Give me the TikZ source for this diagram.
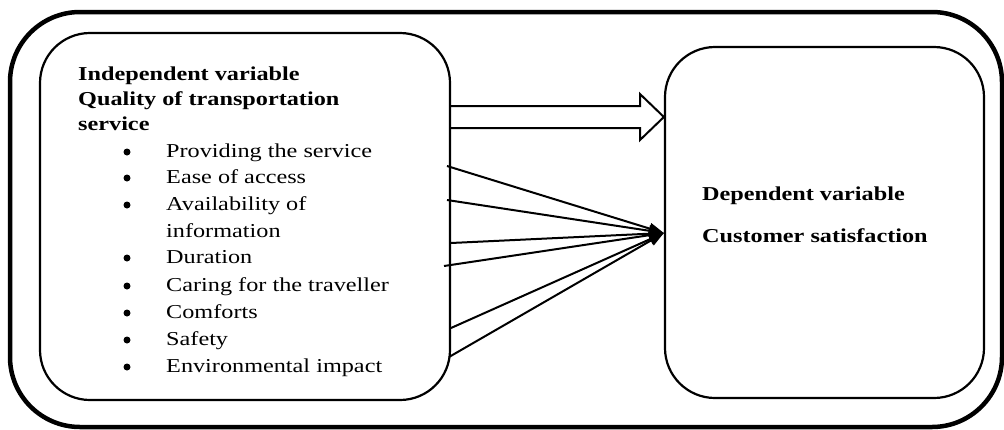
\documentclass[tikz,border=0pt]{standalone}
\usepackage{fontspec}
\setmainfont{Liberation Serif}[FakeStretch=1.23]
\usetikzlibrary{arrows.meta}
\tikzset{
  box/.style={draw, line width=2.2pt, rounded corners=50pt},
  txt/.style={anchor=base west, inner sep=0pt, font=\fontsize{19.7}{26.8}\selectfont},
  btxt/.style={txt, font=\fontsize{19.7}{26.8}\selectfont\bfseries},
  dot/.style={circle, fill, inner sep=0pt, minimum size=7pt},
  link/.style={line width=2pt, -{Triangle[length=15pt,width=11pt]}}
}

\begin{document}
\begin{tikzpicture}[x=1pt,y=-1pt]
\useasboundingbox (0,0) rectangle (1004,429);

\draw[line width=4.5pt, rounded corners=70pt] (10,12) rectangle (1002,427);

\node[box, minimum width=410pt, minimum height=367pt] (indep) at (245,216.5) {};
\node[box, minimum width=319pt, minimum height=351pt] (dep) at (824.5,222.5) {};

% left box texts
\node[btxt] (ind) at (78,80) {Independent variable};
\node[btxt] (qual) at (78,105) {Quality of transportation};
\node[btxt] (serv) at (78,130) {service};

\node[dot] (b1) at (127,152) {};
\node[txt] (i1) at (166,157) {Providing the service};
\node[dot] (b2) at (127,178) {};
\node[txt] (i2) at (166,183) {Ease of access};
\node[dot] (b3) at (127,205) {};
\node[txt] (i3) at (166,210) {Availability of};
\node[txt] (i3b) at (166,237) {information};
\node[dot] (b4) at (127,258) {};
\node[txt] (i4) at (166,263) {Duration};
\node[dot] (b5) at (127,286) {};
\node[txt] (i5) at (166,291) {Caring for the traveller};
\node[dot] (b6) at (127,313) {};
\node[txt] (i6) at (166,318) {Comforts};
\node[dot] (b7) at (127,340) {};
\node[txt] (i7) at (166,345) {Safety};
\node[dot] (b8) at (127,367) {};
\node[txt] (i8) at (166,372) {Environmental impact};

% right box texts
\node[btxt] (depv) at (702,200) {Dependent variable};
\node[btxt] (cust) at (702,242) {Customer satisfaction};

% hollow arrow
\draw[line width=2pt, line join=miter]
  (indep.east |- 0,106) -- (640,106) -- (640,94) -- (dep.west |- 0,117)
  -- (640,140) -- (640,128) -- (indep.east |- 0,128);

% thin arrows
\coordinate (tgt) at (dep.west |- 0,233);
\coordinate (p1) at (447,166);
\coordinate (p2) at (447,200);
\coordinate (p3) at (451,243);
\coordinate (p4) at (444,266);
\coordinate (p5) at (451,328);
\coordinate (p6) at (449,357);
\draw[link] (p1) -- (tgt);
\draw[link] (p2) -- (tgt);
\draw[link] (p3) -- (tgt);
\draw[link] (p4) -- (tgt);
\draw[link] (p5) -- (tgt);
\draw[link] (p6) -- (tgt);
\end{tikzpicture}
\end{document}
